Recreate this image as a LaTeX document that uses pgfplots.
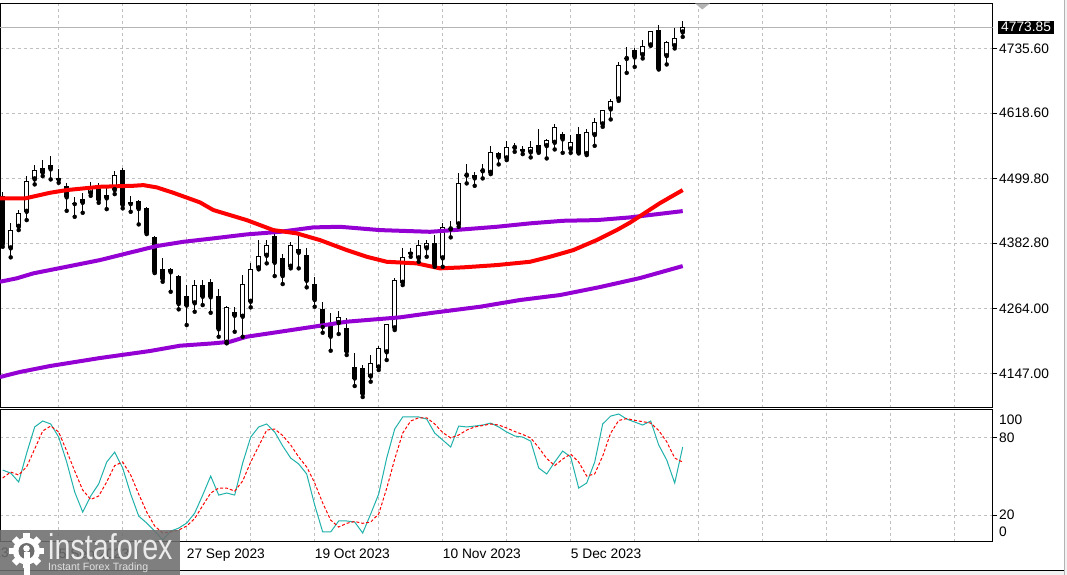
\documentclass[border=0pt]{standalone}
\usepackage{fontspec}
\setmainfont{Liberation Sans}
\usepackage{graphicx}
\usepackage{pgfplots}
\usepackage{pgfplotstable}
\pgfplotsset{compat=1.18}

\definecolor{mared}{HTML}{FF0000}
\definecolor{maviolet}{HTML}{9400D3}
\definecolor{stk}{HTML}{20B2AA}
\definecolor{gridc}{HTML}{C0C0C0}
\definecolor{lastc}{HTML}{B4B4B4}
\definecolor{logog}{HTML}{6E6E6E}

% daily candles, n = bar index (0 = 5 Sep 2023)
\pgfplotstableread{
n o h l c
-6 4373.38 4418.66 4357.08 4406.53
-5 4412.50 4442.75 4406.53 4436.77
-4 4439.67 4504.33 4424.64 4495.81
-3 4498.35 4524.25 4489.29 4515.19
4 4472.99 4492.92 4468.65 4486.76
6 4463.94 4486.22 4444.56 4469.92
7 4478.97 4513.38 4471.73 4506.14
14 4329.92 4338.25 4294.78 4335.35
17 4273.77 4315.97 4258.56 4306.92
21 4202.42 4268.88 4201.33 4267.62
22 4251.32 4266.53 4222.34 4257.47
23 4249.50 4325.03 4213.28 4308.18
24 4276.67 4346.22 4266.53 4335.35
25 4337.16 4388.42 4335.35 4359.44
26 4359.98 4388.42 4346.22 4379.36
29 4340.06 4385.34 4337.16 4379.36
30 4365.42 4397.47 4337.16 4371.57
35 4238.09 4259.83 4218.17 4249.87
39 4141.20 4180.14 4131.78 4165.11
40 4157.50 4197.34 4152.97 4192.82
41 4185.03 4236.28 4171.08 4235.74
42 4228.50 4319.05 4225.42 4315.97
43 4311.08 4373.38 4306.92 4357.08
45 4355.27 4388.42 4349.11 4379.36
46 4373.38 4388.42 4358.17 4382.44
48 4355.27 4418.66 4340.06 4412.50
49 4407.79 4422.83 4393.31 4410.69
50 4416.85 4510.30 4412.50 4491.11
51 4505.23 4525.52 4491.11 4507.04
52 4500.16 4512.11 4486.76 4505.59
53 4513.02 4525.52 4500.16 4514.83
54 4510.30 4559.20 4507.95 4547.25
56 4536.38 4567.71 4533.30 4556.30
57 4555.40 4564.64 4548.34 4557.21
59 4547.25 4568.26 4538.19 4556.30
61 4558.66 4570.79 4536.38 4569.53
62 4564.64 4598.50 4552.68 4592.53
64 4552.68 4578.58 4546.53 4565.36
66 4544.17 4588.90 4542.36 4583.47
67 4578.58 4608.83 4559.20 4601.58
68 4597.96 4624.50 4593.61 4623.86
69 4625.13 4643.78 4607.02 4640.16
70 4643.24 4710.25 4640.70 4705.36
71 4716.59 4737.41 4691.41 4718.40
73 4723.47 4750.64 4717.49 4739.77
74 4741.04 4767.85 4740.68 4766.94
76 4721.66 4748.82 4706.63 4746.47
77 4739.77 4771.83 4735.60 4753.71
78 4764.58 4785.05 4756.61 4773.85
}\bull

\pgfplotstableread{
n o h l c
-7 4468.10 4475.89 4376.28 4381.17
-2 4518.27 4533.30 4504.33 4510.30
-1 4524.25 4540.55 4498.35 4516.46
0 4500.16 4516.46 4492.19 4497.63
1 4486.22 4491.11 4441.48 4465.75
2 4455.97 4466.84 4430.61 4453.62
3 4462.13 4472.99 4437.86 4455.97
5 4484.95 4491.11 4455.97 4460.86
8 4515.19 4518.27 4445.83 4451.80
9 4457.78 4468.10 4439.67 4453.62
10 4459.05 4460.86 4416.85 4444.56
11 4445.83 4448.18 4399.28 4400.55
12 4394.39 4395.66 4328.65 4329.92
13 4335.35 4355.27 4312.89 4317.24
15 4323.22 4325.03 4262.91 4272.51
16 4286.99 4306.92 4234.47 4269.79
18 4306.92 4315.97 4270.69 4285.73
19 4312.89 4317.78 4256.75 4284.64
20 4286.99 4299.13 4213.28 4226.68
27 4395.66 4405.26 4323.22 4347.30
28 4355.27 4363.06 4308.73 4323.22
31 4361.25 4373.38 4302.75 4314.70
32 4308.18 4321.95 4267.62 4279.75
33 4262.91 4276.67 4220.53 4230.85
34 4234.47 4255.66 4187.93 4213.28
36 4229.94 4246.61 4180.14 4186.12
37 4158.41 4183.76 4124.00 4137.58
38 4156.60 4162.03 4104.07 4109.51
44 4366.14 4373.38 4358.17 4363.97
47 4382.44 4397.47 4340.06 4343.14
55 4545.44 4548.34 4525.52 4538.19
58 4552.68 4559.20 4544.17 4550.15
60 4560.47 4588.90 4546.53 4548.34
63 4580.39 4584.56 4546.53 4570.79
65 4580.39 4593.61 4545.44 4546.53
72 4732.52 4735.60 4702.28 4719.30
75 4768.75 4777.80 4697.50 4698.66
}\bear

% stochastic %K and %D
\pgfplotstableread{
n k d
-7 54.7 48.6
-6 52.4 53.2
-5 45.5 50.9
-4 67.9 57.3
-3 88.0 71.0
-2 92.6 84.9
-1 90.3 88.7
0 80.2 84.1
1 60.9 69.4
2 37.8 54.0
3 22.3 39.3
4 34.7 32.0
5 44.0 34.7
6 60.9 45.5
7 68.6 58.2
8 56.3 60.9
9 36.2 50.9
10 19.2 36.2
11 13.8 22.3
12 7.6 11.5
13 0.7 6.1
14 7.6 6.9
15 9.9 8.4
16 13.8 11.5
17 21.5 17.3
18 35.4 27.3
19 50.1 37.0
20 35.4 40.8
21 37.0 40.8
22 35.4 38.5
23 60.2 46.3
24 80.2 60.9
25 88.0 73.3
26 90.3 85.6
27 84.1 86.4
28 73.3 81.4
29 64.0 74.1
30 59.4 64.8
31 51.7 57.1
32 27.7 44.7
33 6.9 29.3
34 6.9 16.1
35 15.4 10.7
36 15.4 13.6
37 14.6 15.0
38 6.1 13.6
39 20.8 14.6
40 36.2 20.8
41 64.0 40.6
42 86.4 63.2
43 95.7 83.3
44 95.7 92.6
45 95.7 95.1
46 94.1 95.1
47 83.3 90.3
48 77.9 83.7
49 72.5 79.5
50 88.7 81.8
51 88.0 85.6
52 88.7 88.0
53 89.5 89.1
54 91.0 90.3
55 88.0 89.5
56 84.1 87.2
57 81.0 84.5
58 80.2 82.2
59 77.1 79.5
60 56.3 72.1
61 51.7 63.6
62 60.9 58.2
63 69.4 63.2
64 64.8 67.1
65 40.8 60.9
66 44.7 50.1
67 60.9 51.7
68 90.3 65.6
69 96.4 83.3
70 98.0 93.0
71 94.1 94.5
72 91.8 93.1
73 89.5 92.1
74 92.6 91.0
75 74.1 85.3
76 62.5 76.6
77 44.7 64.0
78 72.5 60.9
}\stoch

\newcommand{\lblfont}{\fontsize{13.8}{16}\selectfont}

\begin{document}
\begin{tikzpicture}
\useasboundingbox (0bp,0bp) rectangle (1067bp,575bp);
\clip (0bp,0bp) rectangle (1067bp,575bp);
\fill[white] (0bp,0bp) rectangle (1067bp,575bp);

% ---- price panel ----
\begin{axis}[
  at={(0bp,167bp)}, anchor=south west,
  width=992.5bp, height=404.5bp, scale only axis,
  xmin=-7.3375, xmax=116.725,
  ymin=4084.15, ymax=4817.10,
  axis line style={black, line width=1bp},
  xtick={0,8,...,112}, xticklabels={},
  xtick style={draw=none},
  ytick={4147,4264,4382.8,4499.8,4618.6,4735.6},
  yticklabels={4147.00,4264.00,4382.80,4499.80,4618.60,4735.60},
  ytick pos=right, yticklabel pos=right,
  tick align=outside, major tick length=4.5bp,
  ytick style={black, line width=0.8bp},
  grid=major,
  grid style={gridc, dash pattern=on 3bp off 3bp, line width=0.8bp},
  yticklabel style={font=\lblfont, anchor=west, inner xsep=2bp},
  extra y ticks={4773.85}, extra y tick labels={4773.85},
  extra y tick style={grid=none, major tick length=0bp,
    yticklabel style={fill=black, text=white, xshift=5bp, inner xsep=3.5bp,
      inner ysep=0.8bp, text height=9.3bp, text depth=1.4bp}},
  clip=true,
]
% last price line
\addplot[lastc, line width=1bp, forget plot] coordinates {(-8,4773.85) (117,4773.85)};

% wicks
\addplot[only marks, mark=none, forget plot,
  error bars/.cd, y dir=plus, y explicit, error mark=none,
  error bar style={draw=black, solid, line width=1bp}]
  table[x=n, y=l, y error plus expr=\thisrow{h}-\thisrow{l}] {\bull};
\addplot[only marks, mark=none, forget plot,
  error bars/.cd, y dir=plus, y explicit, error mark=none,
  error bar style={draw=black, solid, line width=1bp}]
  table[x=n, y=l, y error plus expr=\thisrow{h}-\thisrow{l}] {\bear};
% bear bodies
\addplot[only marks, mark=none, forget plot,
  error bars/.cd, y dir=plus, y explicit, error mark=none,
  error bar style={draw=black, solid, line width=5bp}]
  table[x=n, y=c, y error plus expr=\thisrow{o}-\thisrow{c}] {\bear};
% bull bodies: outline then white inside
\addplot[only marks, mark=none, forget plot,
  error bars/.cd, y dir=plus, y explicit, error mark=none,
  error bar style={draw=black, solid, line width=5bp}]
  table[x=n, y=o, y error plus expr=\thisrow{c}-\thisrow{o}] {\bull};
\addplot[only marks, mark=none, forget plot,
  error bars/.cd, y dir=plus, y explicit, error mark=none,
  error bar style={draw=white, solid, line width=3bp}]
  table[x=n, y expr=\thisrow{o}+1.8111,
        y error plus expr={max(\thisrow{c}-\thisrow{o}-3.6222,0)}] {\bull};

% moving averages
\addplot[maviolet, line width=4bp] coordinates {
(-7.34,4140.3) (-4.84,4149.4) (-1.09,4160.2) (5.16,4174.7) (11.41,4187.4)
(15.16,4197.0) (19.33,4201.3) (21.41,4204.2) (23.5,4213.3) (27.66,4222.3)
(31.83,4231.4) (36.0,4240.5) (38.5,4243.5) (42.66,4248.4) (46.83,4256.8)
(52.66,4267.6) (57.66,4279.8) (62.66,4288.8) (67.66,4303.3) (72.66,4319.6)
(78,4341.3)};
\addplot[maviolet, line width=4bp] coordinates {
(-7.34,4312.9) (-5.25,4319.1) (-3.18,4328.1) (1.0,4340.1) (5.16,4352.2)
(9.33,4367.2) (12.25,4377.6) (15.58,4385.3) (19.33,4391.5) (23.5,4398.7)
(27.66,4403.4) (31.83,4411.4) (35.16,4412.5) (40.16,4406.5) (46.41,4403.4)
(50.58,4407.8) (54.75,4412.5) (58.91,4418.7) (63.08,4423.4) (67.25,4424.6)
(71.41,4429.5) (78,4440.9)};
\addplot[mared, line width=4bp] coordinates {
(-7.34,4463.9) (-4.21,4463.9) (-1.09,4474.1) (1.0,4479.0) (5.16,4485.0)
(9.33,4486.8) (10.58,4488.0) (12.25,4483.9) (14.33,4474.1) (17.66,4456.7)
(19.33,4442.8) (23.5,4424.6) (26.83,4406.5) (29.75,4400.6) (32.66,4388.4)
(36.0,4370.3) (38.5,4358.2) (41.0,4349.1) (44.75,4346.2) (47.66,4337.2)
(50.58,4339.0) (54.75,4343.1) (58.91,4349.1) (61.41,4358.2) (64.33,4370.3)
(67.25,4388.4) (69.75,4406.5) (71.41,4420.0) (75.16,4455.4) (78,4479.0)};
\end{axis}

% ---- stochastic panel ----
\begin{axis}[
  at={(0bp,33.3bp)}, anchor=south west,
  width=992.5bp, height=131.7bp, scale only axis,
  xmin=-7.3375, xmax=116.725, ymin=-0.6, ymax=101.1,
  axis line style={black, line width=1bp},
  xtick={0,8,...,112},
  xticklabels={5 Sep 2023,,27 Sep 2023,,19 Oct 2023,,10 Nov 2023,,5 Dec 2023,,,,,,},
  xtick style={draw=none},
  xticklabel style={font=\lblfont, anchor=north west, inner xsep=0bp, inner ysep=2bp},
  ytick={20,80}, yticklabels={20,80},
  ytick pos=right, yticklabel pos=right,
  tick align=outside, major tick length=4.5bp,
  ytick style={black, line width=0.8bp},
  grid=major,
  grid style={gridc, dash pattern=on 3bp off 3bp, line width=0.8bp},
  yticklabel style={font=\lblfont, anchor=west, inner xsep=2bp},
  extra y ticks={93.4,6.9}, extra y tick labels={100,0},
  extra y tick style={grid=none, major tick length=0bp, yticklabel style={xshift=4.5bp}},
  clip=true,
]
\addplot[stk, line width=1bp] table[x=n, y=k] {\stoch};
\addplot[mared, line width=1bp, dash pattern=on 3bp off 2bp] table[x=n, y=d] {\stoch};
\end{axis}

\begin{scope}[x=1bp, y=1bp]
% shift marker
\fill[lastc] (695,571.7) -- (710,571.7) -- (702.3,565.5) -- cycle;
% earlier date label cut by the left edge
\node[font=\lblfont, anchor=north west, inner xsep=0bp, inner ysep=2bp] at (-69.3,29) {16 Aug 2023};

% frame
\fill[gray!10] (0,0) rectangle (1067,4.3);
\draw[black, line width=1bp] (0,4.3) -- (1064,4.3);
\fill[gray!10] (1064,0) rectangle (1067,575);
\draw[gray!60, line width=1bp] (1064,0) -- (1064,575);

% watermark
\fill[logog, opacity=0.88] (0,0) rectangle (180,45);
\begin{scope}[shift={(26.5,24)}]
  \foreach \a in {0,45,...,315}
    \fill[white, rotate=\a] (-3.2,10) rectangle (3.2,17.5);
  \fill[white] (0,0) circle (13.5);
  \fill[logog] (0,0) circle (8);
  \fill[white] (0,2.5) circle (3.3);
  \fill[white] (-3,-1) -- (3,-1) -- (3,-24) -- (-3,-24) -- cycle;
\end{scope}
\node[anchor=base west, inner sep=0pt, text=white!92!black] at (48,15.7)
  {\scalebox{1}[1.25]{\fontsize{28.8}{30}\selectfont instaforex}};
\node[anchor=base west, inner sep=0pt, text=white!88!black] at (48,5)
  {\fontsize{10.6}{12}\selectfont Instant Forex Trading};
\end{scope}
\end{tikzpicture}
\end{document}
